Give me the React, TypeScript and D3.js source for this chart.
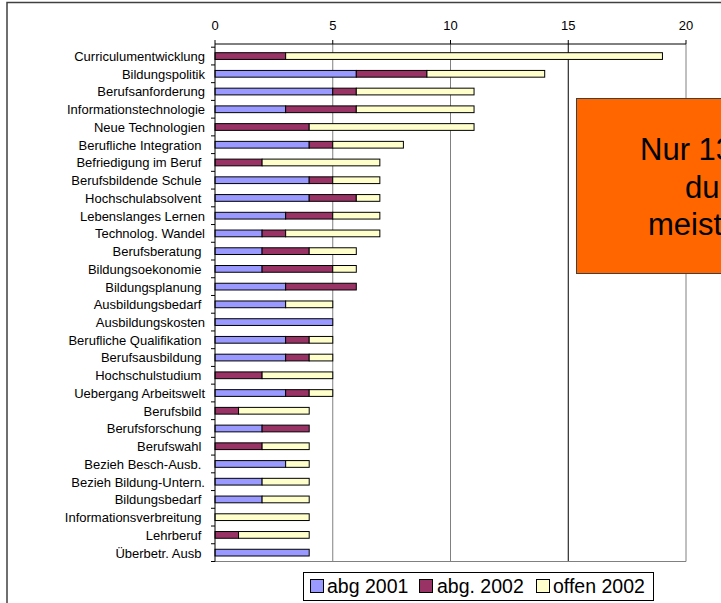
import * as d3 from "d3";

const CATEGORIES = [
  "Curriculumentwicklung",
  "Bildungspolitik",
  "Berufsanforderung",
  "Informationstechnologie",
  "Neue Technologien",
  "Berufliche Integration ",
  "Befriedigung im Beruf ",
  "Berufsbildende Schule ",
  "Hochschulabsolvent ",
  "Lebenslanges Lernen",
  "Technolog. Wandel",
  "Berufsberatung ",
  "Bildungsoekonomie ",
  "Bildungsplanung ",
  "Ausbildungsbedarf ",
  "Ausbildungskosten",
  "Berufliche Qualifikation ",
  "Berufsausbildung ",
  "Hochschulstudium ",
  "Uebergang Arbeitswelt",
  "Berufsbild ",
  "Berufsforschung ",
  "Berufswahl ",
  "Bezieh Besch-Ausb. ",
  "Bezieh Bildung-Untern.",
  "Bildungsbedarf ",
  "Informationsverbreitung ",
  "Lehrberuf ",
  "Überbetr. Ausb ",
];

const ABG_2001 = [0, 6, 5, 3, 0, 4, 0, 4, 4, 3, 2, 2, 2, 3, 3, 5, 3, 3, 0, 3, 0, 2, 0, 3, 2, 2, 0, 0, 4];
const ABG_2002 = [3, 3, 1, 3, 4, 1, 2, 1, 2, 2, 1, 2, 3, 3, 0, 0, 1, 1, 2, 1, 1, 2, 2, 0, 0, 0, 0, 1, 0];
const OFFEN_2002 = [16, 5, 5, 5, 7, 3, 5, 2, 1, 2, 4, 2, 1, 0, 2, 0, 1, 1, 3, 1, 3, 0, 2, 1, 2, 2, 4, 3, 0];

const SERIES = ["abg 2001", "abg. 2002", "offen 2002"];
const COLORS = ["#9999ff", "#993366", "#ffffcc"];
const X_TICKS = [0, 5, 10, 15, 20];
const NOTE_LINES = ["Nur 13 Themen", "durch", "meistens"];

const W = 721;
const H = 603;
const PLOT = { left: 215, right: 686, top: 44, bottom: 561.5 };
const FONT = "'Liberation Sans', Arial, sans-serif";

export default function App() {
  const x = d3.scaleLinear().domain([0, 20]).range([PLOT.left, PLOT.right]);
  const y = d3
    .scaleBand<string>()
    .domain(CATEGORIES)
    .range([47.2, PLOT.bottom])
    .paddingInner(0.62)
    .paddingOuter(0.31);
  const step = y.step();
  const gap = (step - y.bandwidth()) / 2;

  const rows = CATEGORIES.map((c, i) => ({
    cat: c,
    vals: [ABG_2001[i], ABG_2002[i], OFFEN_2002[i]],
  }));
  const stacked = rows.map((r) => {
    let acc = 0;
    return r.vals.map((v, k) => {
      const seg = { x0: acc, x1: acc + v, k };
      acc += v;
      return seg;
    });
  });

  const legendItems = [
    { sx: 310, tx: 327 },
    { sx: 419, tx: 437 },
    { sx: 536, tx: 553 },
  ];
  const noteX = [640, 685, 648];
  const noteY = [160, 198, 235];

  return (
    <svg
      width={W}
      height={H}
      style={{ position: "absolute", left: 0, top: 0, background: "#fff" }}
      fontFamily={FONT}
    >
      {/* outer chart border */}
      <rect x={7} y={2.5} width={W + 20} height={H + 20} fill="#fff" stroke="#404040" strokeWidth={1.5} />

      {/* gridlines */}
      {X_TICKS.slice(1).map((t) => (
        <line
          key={t}
          x1={x(t)}
          x2={x(t)}
          y1={PLOT.top}
          y2={PLOT.bottom}
          stroke={t === 15 ? "#000" : "#808080"}
          strokeWidth={1}
        />
      ))}
      <line x1={PLOT.left} x2={PLOT.right} y1={PLOT.bottom} y2={PLOT.bottom} stroke="#808080" />

      {/* bars */}
      {rows.map((r, i) =>
        stacked[i]
          .filter((s) => s.x1 > s.x0)
          .map((s) => (
            <rect
              key={r.cat + s.k}
              x={x(s.x0)}
              y={y(r.cat)}
              width={x(s.x1) - x(s.x0)}
              height={y.bandwidth()}
              fill={COLORS[s.k]}
              stroke="#000"
              strokeWidth={1}
            />
          ))
      )}

      {/* top axis */}
      <line x1={PLOT.left} x2={PLOT.right} y1={PLOT.top} y2={PLOT.top} stroke="#000" />
      {X_TICKS.map((t) => (
        <g key={t}>
          <line x1={x(t)} x2={x(t)} y1={PLOT.top - 4} y2={PLOT.top} stroke="#000" />
          <text x={x(t)} y={30} textAnchor="middle" fontSize={13} fill="#000">
            {t}
          </text>
        </g>
      ))}

      {/* left axis */}
      <line x1={PLOT.left} x2={PLOT.left} y1={PLOT.top} y2={PLOT.bottom} stroke="#000" />
      {CATEGORIES.map((c) => (
        <line
          key={"t" + c}
          x1={PLOT.left - 4}
          x2={PLOT.left}
          y1={(y(c) ?? 0) - gap}
          y2={(y(c) ?? 0) - gap}
          stroke="#000"
        />
      ))}
      <line x1={PLOT.left - 4} x2={PLOT.left} y1={PLOT.bottom} y2={PLOT.bottom} stroke="#000" />
      {CATEGORIES.map((c) => (
        <text
          key={"l" + c}
          x={205}
          y={(y(c) ?? 0) + y.bandwidth() / 2}
          dy="0.38em"
          textAnchor="end"
          fontSize={13}
          fill="#000"
          style={{ whiteSpace: "pre" }}
        >
          {c}
        </text>
      ))}

      {/* orange note box (runs past the right edge, as in the original) */}
      <rect x={576.5} y={98.5} width={300} height={175} fill="#ff6600" stroke="#404040" strokeWidth={1} />
      {NOTE_LINES.map((t, i) => (
        <text key={t} x={noteX[i]} y={noteY[i]} fontSize={31} fill="#000">
          {t}
        </text>
      ))}

      {/* legend */}
      <rect x={303.5} y={572.5} width={350} height={28} fill="#fff" stroke="#000" strokeWidth={1} />
      {SERIES.map((s, k) => (
        <g key={s}>
          <rect
            x={legendItems[k].sx + 0.5}
            y={579.5}
            width={13}
            height={13}
            fill={COLORS[k]}
            stroke="#000"
          />
          <text x={legendItems[k].tx} y={593} fontSize={19.5} fill="#000">
            {s}
          </text>
        </g>
      ))}
    </svg>
  );
}
